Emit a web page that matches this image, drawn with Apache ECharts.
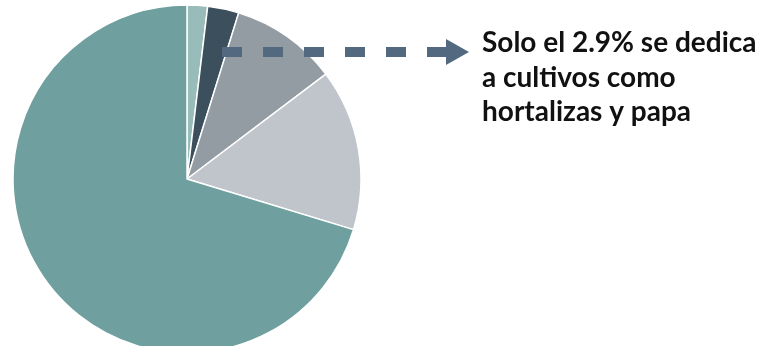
<!DOCTYPE html>
<html>
<head>
<meta charset="utf-8">
<script src="https://cdn.jsdelivr.net/npm/echarts@6/dist/echarts.min.js"></script>
<style>
  html, body { margin: 0; padding: 0; background: #fff; }
  #chart { width: 765px; height: 346px; }
</style>
</head>
<body>
<div id="chart"></div>
<script>
// datos del gráfico
const categorias = ["Otros", "Hortalizas y papa", "Categoría 3", "Categoría 4", "Categoría principal"];
const valores = [1.9, 2.9, 9.9, 15.0, 70.3];
const colores = ["#97bcb9", "#3c4f5c", "#939ca3", "#bfc5ca", "#6fa09f"];
const nota = ["Solo el 2.9% se dedica", "a cultivos como", "hortalizas y papa"];

const myChart = echarts.init(document.getElementById("chart"));

const option = {
  animation: false,
  series: [
    {
      type: "pie",
      center: [187, 179],
      radius: 174,
      startAngle: 90,
      clockwise: true,
      label: { show: false },
      labelLine: { show: false },
      itemStyle: { borderColor: "#fff", borderWidth: 1.5 },
      data: categorias.map((n, i) => ({
        name: n,
        value: valores[i],
        itemStyle: { color: colores[i] },
      })),
    },
  ],
  graphic: [
    // flecha punteada
    {
      type: "line",
      shape: { x1: 222, y1: 52, x2: 447, y2: 52 },
      style: { stroke: "#52697f", lineWidth: 10, lineDash: [20, 21] },
      z: 10,
    },
    {
      type: "polygon",
      shape: { points: [[446, 39], [469, 52], [446, 65]] },
      style: { fill: "#52697f" },
      z: 10,
    },
    {
      type: "text",
      left: 482,
      top: 26,
      style: {
        text: nota.join("\n"),
        font: "bold 28px Lato",
        lineHeight: 34.5,
        fill: "#111",
      },
    },
  ],
};

myChart.setOption(option);
</script>
</body>
</html>
